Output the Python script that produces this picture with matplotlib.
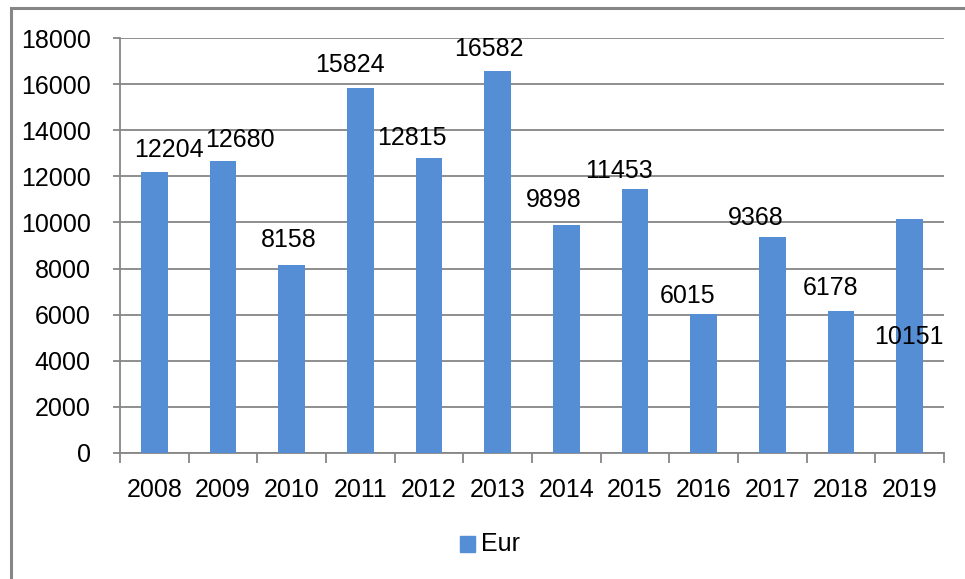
import matplotlib
matplotlib.use('Agg')
import matplotlib.pyplot as plt
from matplotlib.patches import Rectangle
import numpy as np

years = ['2008', '2009', '2010', '2011', '2012', '2013',
         '2014', '2015', '2016', '2017', '2018', '2019']
eur = [12204, 12680, 8158, 15824, 12815, 16582,
       9898, 11453, 6015, 9368, 6178, 10151]

# label offsets (pixels) from the bar top, as placed in the original
label_dx = [15, 17, -3, -10, -17, -9, -13, -16, -16, -17, -10, -1]
label_dy = [22, 21, 25, 23, 20, 22, 25, 18, 18, 19, 23, -118]

W, H = 965, 579
FS = 18
plt.rcParams['font.family'] = ['Liberation Sans', 'DejaVu Sans']
grey = '#868686'
blue = '#558ED5'

fig = plt.figure(figsize=(W / 100, H / 100), dpi=100)
ax = fig.add_axes([120 / W, (H - 453) / H, 824 / W, (453 - 38) / H])

x = np.arange(len(years))
ax.bar(x, eur, width=0.39, color=blue, zorder=3)

for i, v in enumerate(eur):
    ax.annotate(str(v), (x[i], v), xytext=(label_dx[i], label_dy[i]),
                textcoords='offset pixels', ha='center', va='center',
                fontsize=FS, color='black', zorder=4)

ax.set_xlim(-0.5, len(years) - 0.5)
ax.set_ylim(0, 18000)
ax.set_yticks(np.arange(0, 18001, 2000))
ax.yaxis.grid(True, color=grey, linewidth=1.3, zorder=0)
ax.set_axisbelow(True)

ax.set_xticks(np.arange(-0.5, len(years), 1.0))
ax.set_xticklabels([])
ax.set_xticks(x, minor=True)
ax.set_xticklabels(years, minor=True, fontsize=FS)
ax.tick_params(axis='x', which='major', length=7, width=1.3, color=grey, direction='out')
ax.tick_params(axis='x', which='minor', length=0, pad=18)
ax.tick_params(axis='y', length=5, width=1.3, color=grey, pad=16, labelsize=FS)

for s in ['top', 'right']:
    ax.spines[s].set_visible(False)
for s in ['left', 'bottom']:
    ax.spines[s].set_color(grey)
    ax.spines[s].set_linewidth(1.3)

# legend
fig.patches.append(Rectangle((460 / W, (H - 552) / H), 15 / W, 16 / H,
                             transform=fig.transFigure, color=blue))
fig.text(481 / W, (H - 544) / H, 'Eur', fontsize=FS, va='center', ha='left')

# chart border
fig.patches.append(Rectangle((11 / W, -0.02), 1.0, 1 - 8 / H + 0.02,
                             transform=fig.transFigure, fill=False,
                             edgecolor=grey, linewidth=2.2))

fig.savefig('out.png', dpi=100)
